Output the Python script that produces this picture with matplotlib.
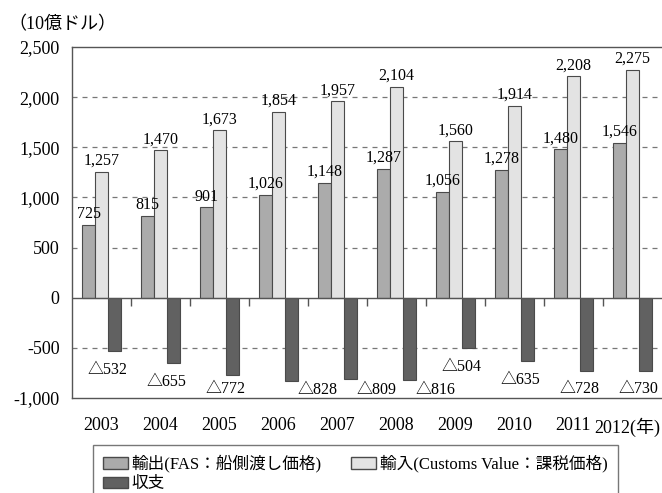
import numpy as np
import matplotlib
matplotlib.use('Agg')
import matplotlib.pyplot as plt
import matplotlib.transforms as mtransforms
from matplotlib.patches import Patch

plt.rcParams['font.family'] = ['Liberation Serif', 'Noto Sans CJK JP']

# data (10億ドル)
years = ['2003', '2004', '2005', '2006', '2007', '2008', '2009', '2010', '2011', '2012(年)']
exports = [725, 815, 901, 1026, 1148, 1287, 1056, 1278, 1480, 1546]
imports = [1257, 1470, 1673, 1854, 1957, 2104, 1560, 1914, 2208, 2275]
balance = [-532, -655, -772, -828, -809, -816, -504, -635, -728, -730]

c_exp = '#ababab'
c_imp = '#e3e3e3'
c_bal = '#616161'
edge = '#4a4a4a'

fig = plt.figure(figsize=(6.62, 4.93), dpi=100)
ax = fig.add_axes([72 / 662, 1 - 398 / 493, 590 / 662, 351 / 493])

x = np.arange(len(years))
w = 0.22

# grid lines
for g in [-500, 500, 1000, 1500, 2000]:
    ax.axhline(g, color='#777777', lw=0.9, ls=(0, (4, 4)), zorder=0)
ax.axhline(0, color='#555555', lw=1.0, zorder=3)

ax.bar(x - w, exports, w, color=c_exp, edgecolor=edge, lw=0.8, zorder=2)
ax.bar(x, imports, w, color=c_imp, edgecolor=edge, lw=0.8, zorder=2)
ax.bar(x + w, balance, w, color=c_bal, edgecolor=edge, lw=0.8, zorder=2)

# small ticks between categories on the zero line
ax.vlines(x[:-1] + 0.5, -80, 0, color='#555555', lw=1.0, zorder=3)

# value labels
for i in range(len(years)):
    ax.annotate(f'{exports[i]:,}', (x[i] - w, exports[i]), xytext=(0, 2),
                textcoords='offset points', ha='center', va='bottom', fontsize=11.5)
    ax.annotate(f'{imports[i]:,}', (x[i], imports[i]), xytext=(0, 2),
                textcoords='offset points', ha='center', va='bottom', fontsize=11.5)
    v = balance[i]
    if v < -800:
        ax.text(x[i] + 1.5 * w, -920, f'△{-v}', ha='left', va='center', fontsize=11.5)
    else:
        ax.text(x[i] + 0.1, max(v - 190, -910), f'△{-v}', ha='center', va='center', fontsize=11.5)

ax.set_xlim(-0.5, len(years) - 0.5)
ax.set_ylim(-1000, 2500)
ax.set_yticks([-1000, -500, 0, 500, 1000, 1500, 2000, 2500])
ax.set_yticklabels(['-1,000', '-500', '0', '500', '1,000', '1,500', '2,000', '2,500'])
ax.set_xticks(x)
ax.set_xticklabels(years)
ax.tick_params(axis='y', length=0, pad=9, labelsize=13)
ax.tick_params(axis='x', length=0, pad=14, labelsize=13)

# last year label sits flush with the right edge
last = ax.get_xticklabels()[-1]
last.set_ha('right')
last.set_transform(last.get_transform() +
                   mtransforms.ScaledTranslation(0.28, 0, fig.dpi_scale_trans))

ax.spines['right'].set_visible(False)
for s in ['top', 'left', 'bottom']:
    ax.spines[s].set_color('#555555')
    ax.spines[s].set_linewidth(1.0)

fig.text(8 / 662, 1 - 25 / 493, '（10億ドル）', fontsize=13, va='center', ha='left')

handles = [Patch(facecolor=c_exp, edgecolor=edge, label='輸出(FAS：船側渡し価格)'),
           Patch(facecolor=c_bal, edgecolor=edge, label='収支'),
           Patch(facecolor=c_imp, edgecolor=edge, label='輸入(Customs Value：課税価格)')]
leg = fig.legend(handles=handles, ncol=2, loc='upper left',
                 bbox_to_anchor=(93 / 662, 1 - 445 / 493), borderaxespad=0,
                 fontsize=12, frameon=True, fancybox=False, edgecolor='#555555',
                 handlelength=1.5, handleheight=0.7, handletextpad=0.2,
                 columnspacing=1.8, labelspacing=0.2, borderpad=0.6)
leg.get_frame().set_linewidth(1.0)

fig.savefig('out.png', dpi=100)
